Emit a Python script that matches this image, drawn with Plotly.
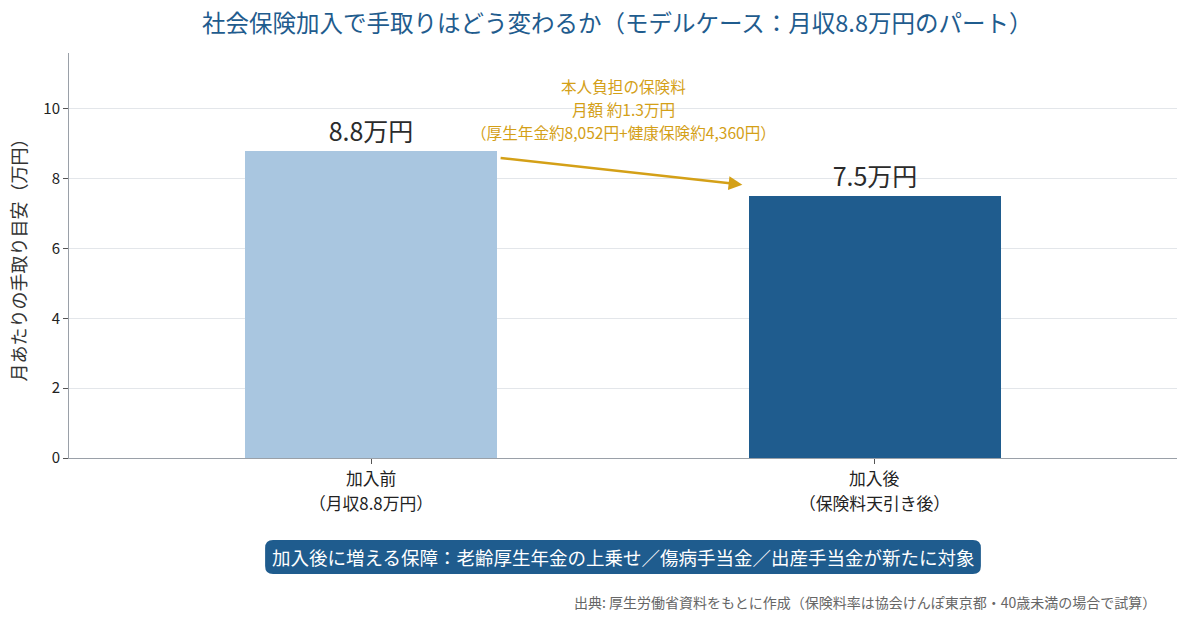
import plotly.graph_objects as go

categories = ["加入前<br>（月収8.8万円）", "加入後<br>（保険料天引き後）"]
values = [8.8, 7.5]
value_labels = ["8.8万円", "7.5万円"]
bar_colors = ["#a9c6e0", "#1f5c8e"]
y_ticks = [0, 2, 4, 6, 8, 10]
note_lines = ["本人負担の保険料", "月額 約1.3万円", "（厚生年金約8,052円+健康保険約4,360円）"]

FONT = "Noto Sans CJK JP"
x_pos = list(range(len(categories)))

fig = go.Figure()
fig.add_trace(go.Bar(
    x=x_pos, y=values, width=0.5,
    marker=dict(color=bar_colors, line=dict(width=0)),
    text=value_labels, textposition="outside",
    textfont=dict(size=25, color="#2b2b2b", family=FONT),
    cliponaxis=False, showlegend=False, hoverinfo="skip",
))

# arrow between bars
fig.add_annotation(
    x=0.737, y=7.83, ax=0.254, ay=8.6,
    xref="x", yref="y", axref="x", ayref="y",
    showarrow=True, arrowhead=2, arrowsize=1.1, arrowwidth=2.5,
    arrowcolor="#d4a017", text="",
)
PLOT_TOP, PLOT_BOTTOM = 53, 458
def py(pix):
    return (PLOT_BOTTOM - pix) / (PLOT_BOTTOM - PLOT_TOP)

# note text, one line per annotation
for i, line in enumerate(note_lines):
    fig.add_annotation(
        x=0.5, y=py(86 + 23 * i), xref="x", yref="paper", showarrow=False,
        text=line, font=dict(size=15.6, color="#d4a017", family=FONT),
        yanchor="middle", borderpad=0,
    )

# category labels, one line per annotation
for xi, cat in zip(x_pos, categories):
    for j, line in enumerate(cat.split("<br>")):
        fig.add_annotation(
            x=xi, y=py(478 + 24.5 * j), xref="x", yref="paper", showarrow=False,
            text=line, font=dict(size=16.8, color="#222222", family=FONT),
            yanchor="middle", borderpad=0,
        )

# rounded box
x0, x1, y0, y1 = 0.177, 0.823, py(574), py(540)
rx, ry = 0.0072, 0.0198
path = (f"M {x0+rx},{y1} L {x1-rx},{y1} Q {x1},{y1} {x1},{y1-ry} "
        f"L {x1},{y0+ry} Q {x1},{y0} {x1-rx},{y0} L {x0+rx},{y0} "
        f"Q {x0},{y0} {x0},{y0+ry} L {x0},{y1-ry} Q {x0},{y1} {x0+rx},{y1} Z")
fig.add_shape(type="path", path=path, xref="paper", yref="paper",
              fillcolor="#1f5c8e", line=dict(width=0), layer="above")
fig.add_annotation(
    x=0.5, y=py(557), xref="paper", yref="paper", showarrow=False,
    text="加入後に増える保障：老齢厚生年金の上乗せ／傷病手当金／出産手当金が新たに対象",
    font=dict(size=18.5, color="white", family=FONT),
    yanchor="middle",
)
fig.add_annotation(
    x=0.983, y=py(602), xref="paper", yref="paper", showarrow=False,
    xanchor="right", yanchor="middle",
    text="出典: 厚生労働省資料をもとに作成（保険料率は協会けんぽ東京都・40歳未満の場合で試算）",
    font=dict(size=14, color="#666666", family=FONT),
)

fig.update_layout(
    width=1187, height=621,
    margin=dict(l=69, r=10, t=53, b=163),
    paper_bgcolor="white", plot_bgcolor="white",
    font=dict(family=FONT, size=14, color="#222222"),
    title=dict(
        text="社会保険加入で手取りはどう変わるか（モデルケース：月収8.8万円のパート）",
        x=0.52, xanchor="center", y=0.962, yanchor="middle",
        font=dict(size=23.5, color="#1f5c8e", family=FONT),
    ),
    bargap=0,
)
fig.update_xaxes(
    tickmode="array", tickvals=x_pos, ticktext=["" for _ in categories],
    range=[-0.6, 1.6], showgrid=False, zeroline=False,
    showline=True, linecolor="#9aa0a8", linewidth=1,
    ticks="outside", ticklen=5, tickcolor="#555555",
)
fig.update_yaxes(
    range=[0, 11.6], tickvals=y_ticks,
    showgrid=True, gridcolor="#e3e6ea", gridwidth=1, zeroline=False,
    showline=True, linecolor="#9aa0a8", linewidth=1,
    ticks="outside", ticklen=5, tickcolor="#555555",
    tickfont=dict(size=15, color="#222222", family=FONT),
    title=dict(text="月あたりの手取り目安（万円）", font=dict(size=18, color="#333333", family=FONT), standoff=12),
)

fig.write_html("out.html")
